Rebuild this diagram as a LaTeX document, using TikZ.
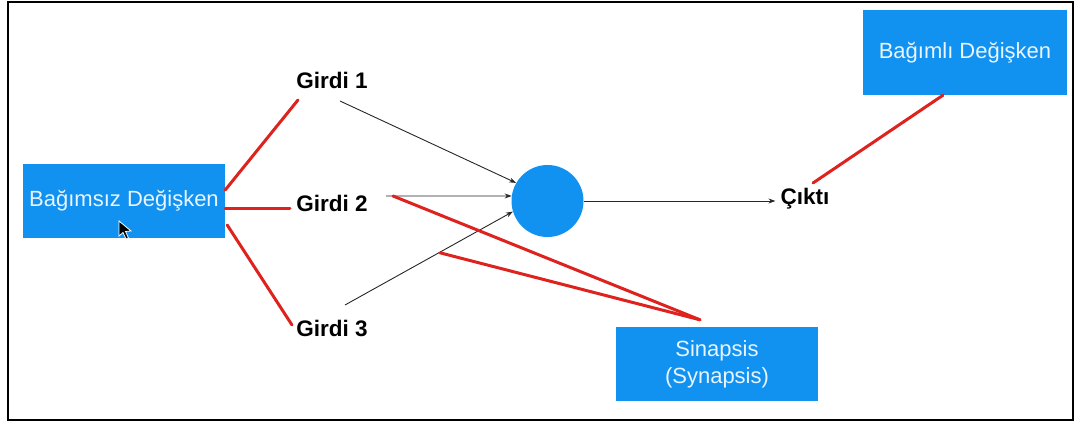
\documentclass[tikz,border=0pt]{standalone}
\usepackage{fontspec}
\setmainfont{Liberation Sans}
\usetikzlibrary{arrows.meta}
\definecolor{boxblue}{RGB}{18,146,240}
\definecolor{boxtext}{RGB}{232,244,255}
\definecolor{redline}{RGB}{222,34,30}
\tikzset{
  bluebox/.style={fill=boxblue, draw=none, inner sep=0pt, text=boxtext, font=\fontsize{22}{27}\selectfont, align=center},
  label/.style={inner sep=0pt, font=\fontsize{22.5}{27}\selectfont\bfseries, text=black},
  redmark/.style={draw=redline, line width=3pt, line cap=round},
  wire/.style={draw=black!85, line width=0.9pt, -{Stealth[length=7pt,width=5pt]}},
}
\begin{document}
\begin{tikzpicture}[x=1pt,y=-1pt]
\useasboundingbox (0,0) rectangle (1077,423);
\draw[line width=2.5pt] (8,2) rectangle (1073,420);
% boxes
\node[bluebox, minimum width=202pt, minimum height=74pt] (indep) at (124,201) {Bağımsız Değişken};
\node[bluebox, minimum width=204pt, minimum height=85pt] (dep) at (965,52.5) {Bağımlı Değişken};
\node[bluebox, minimum width=202pt, minimum height=74pt] (syn) at (717,364) {Sinapsis\\(Synapsis)};
% labels
\node[label] (g1) at (332,80) {Girdi 1};
\node[label] (g2) at (332,203) {Girdi 2};
\node[label] (g3) at (332,328) {Girdi 3};
\node[label] (out) at (805,199) {Çıktı};
% neuron
\node[circle, fill=boxblue, minimum size=72pt, inner sep=0pt] (neuron) at (547.5,201) {};
% black connectors
\draw[wire] ([shift={(8pt,-21pt)}]g1.center) -- (neuron.150);
\draw[wire] ([shift={(54pt,7pt)}]g2.center) -- (neuron.172);
\draw[wire] ([shift={(13pt,23pt)}]g3.center) -- (neuron.197);
\draw[wire] (neuron.east) -- ([xshift=-5pt]neuron.east -| out.west);
% red marks
\draw[redmark] ([yshift=11pt]indep.east) -- ([shift={(-34pt,-20pt)}]g1.center);
\draw[redmark] ([yshift=-7pt]indep.east) -- ([shift={(-42pt,-5pt)}]g2.center);
\draw[redmark] ([shift={(2pt,-24pt)}]indep.east) -- ([shift={(-40pt,3pt)}]g3.center);
\draw[redmark] ([shift={(-22pt,0pt)}]dep.south) -- ([shift={(8pt,16pt)}]out.center);
\draw[redmark] ([shift={(61pt,7pt)}]g2.center) -- ([shift={(-17pt,7pt)}]syn.north);
\draw[redmark] ([shift={(-277pt,74pt)}]syn.north) -- ([shift={(-17pt,7pt)}]syn.north);
% mouse cursor
\filldraw[fill=black, draw=white, line width=0.8pt]
  (119,221) -- (119,236) -- (123,232.5) -- (126,239) -- (128.5,238) -- (125.5,231.5) -- (131,231) -- cycle;
\end{tikzpicture}
\end{document}
